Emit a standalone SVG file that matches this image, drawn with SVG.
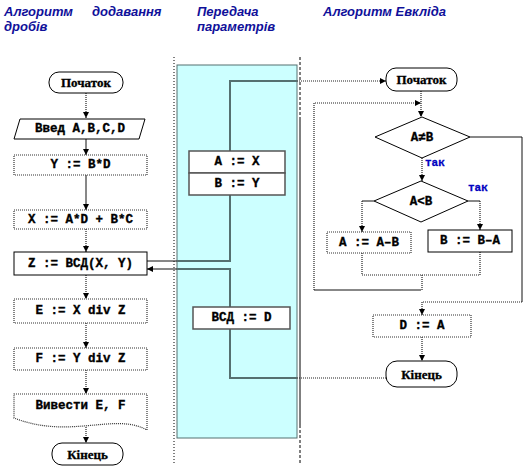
<svg xmlns="http://www.w3.org/2000/svg" width="524" height="473" viewBox="0 0 524 473">
<style>
.hdr{font-family:"Liberation Sans",Arial,sans-serif;font-size:13px;font-weight:bold;font-style:italic;fill:#10109a}
.t{font-family:"Liberation Mono","Courier New",monospace;font-size:12.5px;font-weight:bold;fill:#000;stroke:#000;stroke-width:0.35;text-anchor:middle;dominant-baseline:central}
.ts{font-family:"Liberation Serif","Times New Roman",serif;font-size:13px;font-weight:bold;fill:#000;stroke:#000;stroke-width:0.3;text-anchor:middle;dominant-baseline:central}
.yes{font-family:"Liberation Mono","Courier New",monospace;font-size:11px;font-weight:bold;fill:#0000c0;stroke:#0000c0;stroke-width:0.3;dominant-baseline:central}
.bx{fill:#fff;stroke:#333;stroke-width:1.2;stroke-dasharray:1,1}
.bs{fill:#fff;stroke:#000;stroke-width:1}
.bg{fill:#fff;stroke:#555;stroke-width:1.5}
.c{fill:none;stroke:#111;stroke-width:1}
.d{fill:none;stroke:#222;stroke-width:1.2;stroke-dasharray:1,1}
.g{fill:none;stroke:#557070;stroke-width:2}
</style>
<defs>
<marker id="ah" viewBox="0 0 6 6" refX="6" refY="3" markerWidth="6" markerHeight="6" markerUnits="userSpaceOnUse" orient="auto">
<path d="M0,0 L6,3 L0,6 z" fill="#000"/>
</marker>
</defs>

<g id="headers">
<text class="hdr" x="4" y="16">Алгоритм</text>
<text class="hdr" x="92" y="16">додавання</text>
<text class="hdr" x="4" y="31">дробів</text>
<text class="hdr" x="197" y="16">Передача</text>
<text class="hdr" x="197" y="31">параметрів</text>
<text class="hdr" x="323" y="16">Алгоритм  Евкліда</text>
</g>

<g id="panel">
<rect x="177" y="65" width="120" height="373" fill="#ccffff" stroke="#557070" stroke-width="1"/>
<line x1="174" y1="57" x2="174" y2="463" stroke="#000" stroke-width="1" stroke-dasharray="1,2"/>
<line x1="300" y1="57" x2="300" y2="117" stroke="#000" stroke-width="1" stroke-dasharray="3,2"/>
<line x1="300" y1="117" x2="300" y2="425" stroke="#000" stroke-width="1"/>
<line x1="300" y1="425" x2="300" y2="463" stroke="#000" stroke-width="1" stroke-dasharray="3,2"/>
</g>

<g id="connectors">
<path class="d" d="M86,93 V118" marker-end="url(#ah)"/>
<path class="c" d="M86,139 V155" marker-end="url(#ah)"/>
<path class="c" d="M86,175 V210" marker-end="url(#ah)"/>
<path class="d" d="M86,229 V252" marker-end="url(#ah)"/>
<path class="d" d="M86,275 V299" marker-end="url(#ah)"/>
<path class="d" d="M86,323 V348" marker-end="url(#ah)"/>
<path class="d" d="M86,370 V394" marker-end="url(#ah)"/>
<path class="d" d="M86,427 V443" marker-end="url(#ah)"/>

<path class="c" d="M147,261 H177"/>
<path class="g" d="M177,261 H230 V195"/>
<path class="g" d="M230,151 V81 H297"/>
<path class="d" d="M297,81 H386" marker-end="url(#ah)"/>
<path class="g" d="M230,307 V269 H177"/>
<path class="c" d="M177,269 H147" marker-end="url(#ah)"/>
<path class="g" d="M230,329 V378 H297"/>
<path class="d" d="M297,378 H387"/>

<path class="d" d="M421,91 V117" marker-end="url(#ah)"/>
<path class="c" d="M421,290 H314"/>
<path class="d" d="M314,290 V103 H421" marker-end="url(#ah)"/>
<path class="d" d="M422,158 V181" marker-end="url(#ah)"/>
<path class="c" d="M470,137 H522 V302"/>
<path class="d" d="M522,302 H422 V315" marker-end="url(#ah)"/>
<path class="c" d="M374,201 H362"/>
<path class="d" d="M362,201 V232" marker-end="url(#ah)"/>
<path class="c" d="M468,201 H480"/>
<path class="d" d="M480,201 V230" marker-end="url(#ah)"/>
<path class="d" d="M362,253 V275 H480 V252"/>
<path class="d" d="M422,275 V290"/>
<path class="d" d="M422,337 V361" marker-end="url(#ah)"/>
</g>

<g id="start1"><rect x="49" y="72" width="74" height="21" rx="10" class="bs"/><text class="ts" x="86" y="82.5">Початок</text></g>
<g id="input1"><polygon points="20,119 145,119 139,139 14,139" class="bs"/><text class="t" x="80" y="129">Введ A,B,C,D</text></g>
<g id="y1"><rect x="14" y="155" width="133" height="20" class="bx"/><text class="t" x="80.5" y="165">Y := B*D</text></g>
<g id="x1"><rect x="14" y="210" width="133" height="19" class="bx"/><text class="t" x="80.5" y="219.5">X := A*D + B*C</text></g>
<g id="z1"><rect x="14" y="252" width="133" height="23" class="bs"/><text class="t" x="80.5" y="263.5">Z := ВСД(X, Y)</text></g>
<g id="e1"><rect x="14" y="299" width="133" height="24" class="bx"/><text class="t" x="80.5" y="311">E := X div Z</text></g>
<g id="f1"><rect x="14" y="348" width="133" height="22" class="bx"/><text class="t" x="80.5" y="359">F := Y div Z</text></g>
<g id="out1"><path d="M14,394 H147 V430 C115,412 70,440 14,418 Z" class="bx"/><text class="t" x="80.5" y="406">Вивести E, F</text></g>
<g id="end1"><rect x="52" y="443" width="71" height="22" rx="10" class="bs"/><text class="ts" x="87.5" y="454">Кінець</text></g>

<g id="ab"><rect x="189" y="151" width="96" height="22" class="bg"/><text class="t" x="237" y="162">A := X</text>
<rect x="189" y="173" width="96" height="22" class="bg"/><text class="t" x="237" y="184">B := Y</text></g>
<g id="vsd"><rect x="193" y="307" width="97" height="22" class="bg"/><text class="t" x="241.5" y="318">ВСД := D</text></g>

<g id="start2"><rect x="386" y="68" width="71" height="23" rx="10" class="bs"/><text class="ts" x="421.5" y="79.5">Початок</text></g>
<g id="dia1"><polygon points="422,117 470,137 422,158 375,137" class="bs"/><text class="t" x="422" y="137.5">A≠B</text></g>
<text class="yes" x="425" y="163">так</text>
<text class="yes" x="468" y="188">так</text>
<g id="dia2"><polygon points="421,181 468,201 421,222 374,201" class="bs"/><text class="t" x="421" y="202">A&lt;B</text></g>
<g id="amb"><rect x="327" y="232" width="84" height="21" class="bx"/><text class="t" x="369" y="242.5">A := A–B</text></g>
<g id="bma"><rect x="428" y="230" width="84" height="22" class="bs"/><text class="t" x="470" y="241">B := B–A</text></g>
<g id="da"><rect x="373" y="315" width="98" height="22" class="bx"/><text class="t" x="422" y="326">D := A</text></g>
<g id="end2"><rect x="386" y="361" width="71" height="26" rx="11" class="bs"/><text class="ts" x="421.5" y="374">Кінець</text></g>
</svg>
